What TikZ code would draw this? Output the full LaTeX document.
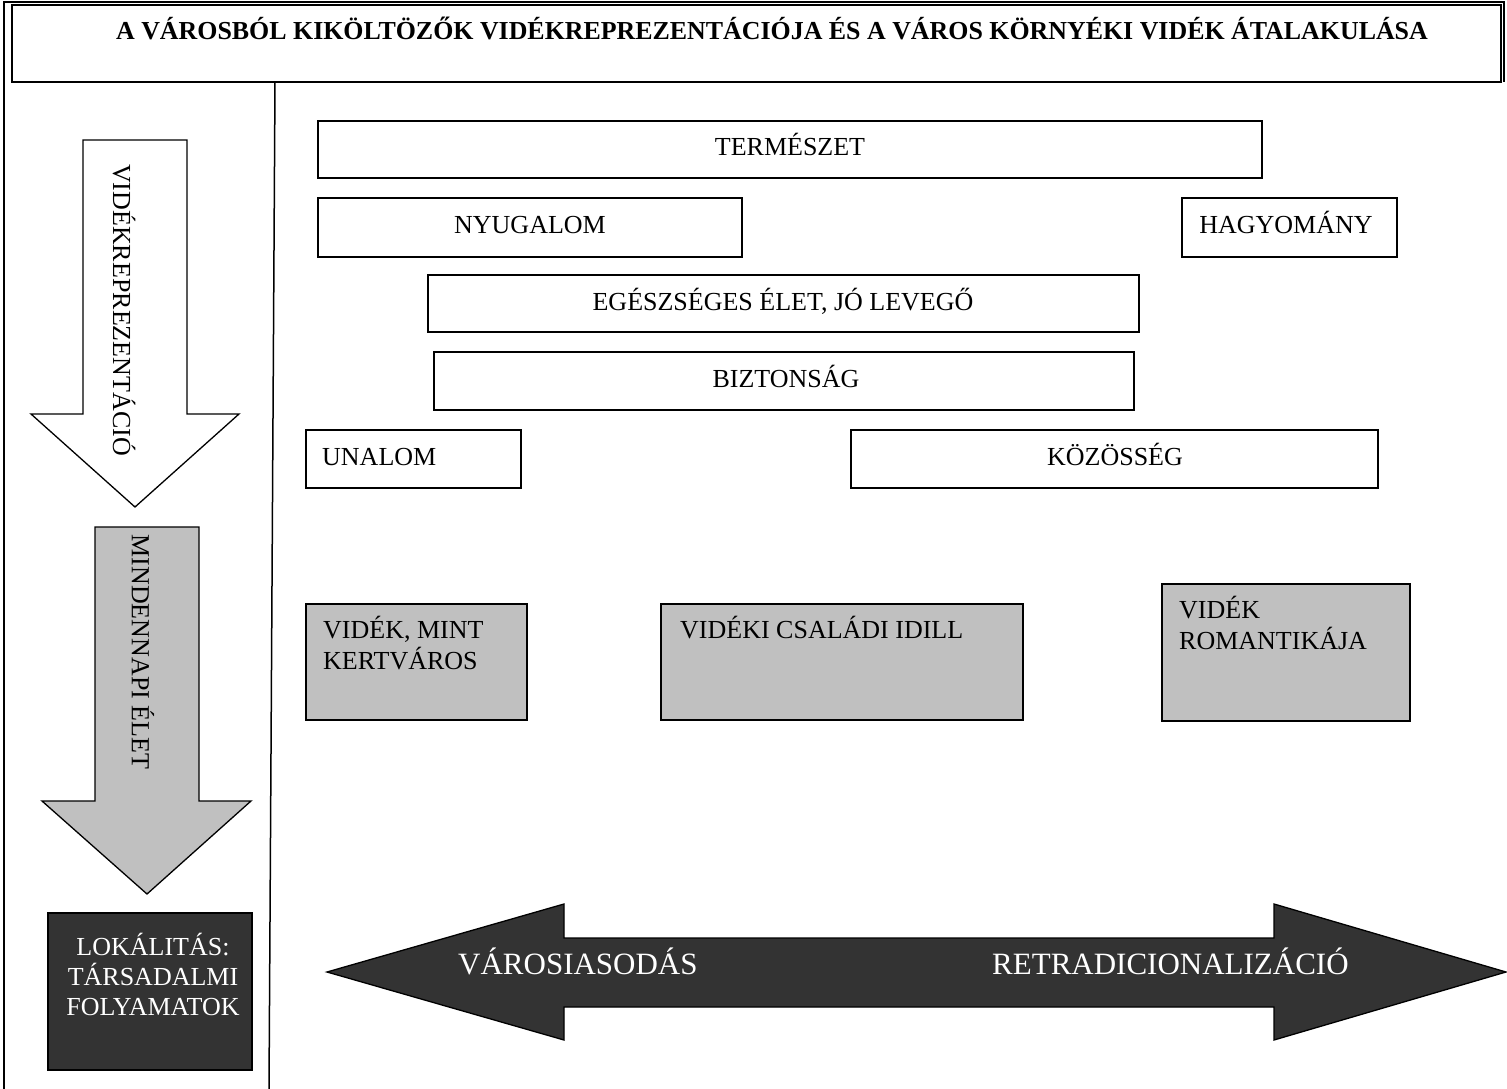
\documentclass[tikz,border=0pt]{standalone}
\usepackage{fontspec}
\setmainfont{Liberation Serif}
\definecolor{boxgray}{HTML}{C0C0C0}
\definecolor{darkfill}{HTML}{333333}
\begin{document}
\begin{tikzpicture}[x=1pt,y=-1pt,
  frameline/.style={line width=1.5pt},
  wbox/.style={draw, line width=1.6pt, fill=white},
  gbox/.style={draw, line width=1.6pt, fill=boxgray},
  dbox/.style={draw, line width=1.6pt, fill=darkfill},
  arrowshape/.style={draw, line width=1.3pt, line join=miter},
  lbl/.style={inner sep=0pt, font=\fontsize{26}{30}\selectfont},
  wlbl/.style={lbl, text=white},
  biglbl/.style={inner sep=0pt, font=\fontsize{31}{35}\selectfont, text=white}]
\useasboundingbox (0,0) rectangle (1507,1089);
\fill[white] (0,0) rectangle (1507,1089);

% outer frame and divider
\draw[frameline] (4,1089) -- (4,2) -- (1504,2) -- (1504,82);
\draw[frameline] (275,82) -- (269,1089);

% title box
\draw[draw, line width=2.2pt] (12,5) rectangle (1501,82);
\node[inner sep=0pt, anchor=base, font=\bfseries\fontsize{25.9}{30}\selectfont] (title) at (772,40)
  {A VÁROSBÓL KIKÖLTÖZŐK VIDÉKREPREZENTÁCIÓJA ÉS A VÁROS KÖRNYÉKI VIDÉK ÁTALAKULÁSA};

% left arrows
\draw[arrowshape, fill=white] (83,140) -- (187,140) -- (187,414) -- (239,414) -- (135,507)
  -- (31,414) -- (83,414) -- cycle;
\node[lbl, rotate=-90] (vidrep) at (124,310) {VIDÉKREPREZENTÁCIÓ};

\draw[arrowshape, fill=boxgray] (95,527) -- (199,527) -- (199,801) -- (251,801) -- (147,894)
  -- (42,801) -- (95,801) -- cycle;
\node[lbl, rotate=-90] (mind) at (143,652) {MINDENNAPI ÉLET};

% dark box
\draw[dbox] (48,913) rectangle (252,1070);
\node[wlbl, anchor=base] (lok1) at (153,955) {LOKÁLITÁS:};
\node[wlbl, anchor=base] (lok2) at (153,985) {TÁRSADALMI};
\node[wlbl, anchor=base] (lok3) at (153,1015) {FOLYAMATOK};

% white boxes
\draw[wbox] (318,121) rectangle (1262,178);
\node[lbl, anchor=base] (term) at (790,155) {TERMÉSZET};
\draw[wbox] (318,198) rectangle (742,257);
\node[lbl, anchor=base] (nyug) at (530,233) {NYUGALOM};
\draw[wbox] (1182,198) rectangle (1397,257);
\node[lbl, anchor=base] (hagy) at (1286,233) {HAGYOMÁNY};
\draw[wbox] (428,275) rectangle (1139,332);
\node[lbl, anchor=base] (egesz) at (783,310) {EGÉSZSÉGES ÉLET, JÓ LEVEGŐ};
\draw[wbox] (434,352) rectangle (1134,410);
\node[lbl, anchor=base] (bizt) at (786,387) {BIZTONSÁG};
\draw[wbox] (306,430) rectangle (521,488);
\node[lbl, anchor=base west] (unal) at (322,465) {UNALOM};
\draw[wbox] (851,430) rectangle (1378,488);
\node[lbl, anchor=base] (kozos) at (1115,465) {KÖZÖSSÉG};

% gray boxes
\draw[gbox] (306,604) rectangle (527,720);
\node[lbl, anchor=base west] (kert1) at (323,638) {VIDÉK, MINT};
\node[lbl, anchor=base west] (kert2) at (323,669) {KERTVÁROS};
\draw[gbox] (661,604) rectangle (1023,720);
\node[lbl, anchor=base west] (csal) at (680,638) {VIDÉKI CSALÁDI IDILL};
\draw[gbox] (1162,584) rectangle (1410,721);
\node[lbl, anchor=base west] (rom1) at (1179,618) {VIDÉK};
\node[lbl, anchor=base west] (rom2) at (1179,649) {ROMANTIKÁJA};

% double arrow
\draw[arrowshape, fill=darkfill] (327,972) -- (564,904) -- (564,938) -- (1274,938) -- (1274,904)
  -- (1506,972) -- (1274,1040) -- (1274,1007) -- (564,1007) -- (564,1040) -- cycle;
\node[biglbl, anchor=base west] (varos) at (458,974) {VÁROSIASODÁS};
\node[biglbl, anchor=base west] (retrad) at (992,974) {RETRADICIONALIZÁCIÓ};
\end{tikzpicture}
\end{document}
